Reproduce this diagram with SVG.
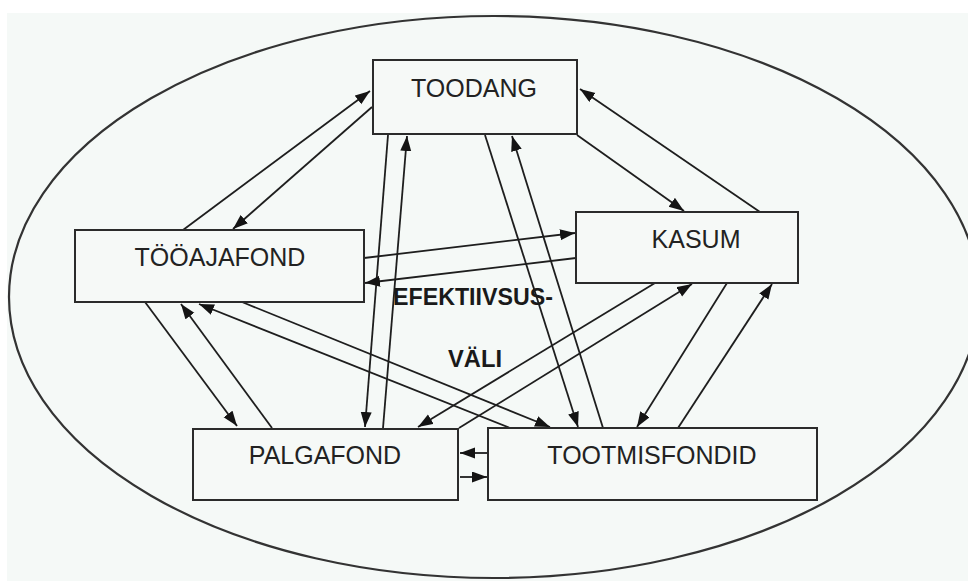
<svg xmlns="http://www.w3.org/2000/svg" width="968" height="581" viewBox="0 0 968 581">
  <style>
    .box { fill: #f6f9f7; stroke: #2b2b2b; stroke-width: 2; }
    .lbl { font-family: "Liberation Sans", Arial, sans-serif; font-size: 25px; fill: #222; text-anchor: middle; }
    .mid { font-family: "Liberation Sans", Arial, sans-serif; font-size: 23px; font-weight: bold; fill: #1a1a1a; }
    .edge { stroke: #1e1e1e; stroke-width: 1.8; fill: none; marker-end: url(#arrow); }
  </style>
  <defs>
    <marker id="arrow" markerUnits="userSpaceOnUse" markerWidth="16" markerHeight="12" refX="15" refY="5.5" orient="auto">
      <path d="M0,0 L15,5.5 L0,11 Z" fill="#141414"/>
    </marker>
  </defs>

  <!-- page background -->
  <rect x="0" y="0" width="968" height="581" fill="#ffffff"/>
  <rect x="7" y="13" width="961" height="568" fill="#f5f9f7"/>

  <!-- boundary of the efficiency field -->
  <ellipse cx="494" cy="297" rx="485" ry="281" fill="none" stroke="#333" stroke-width="2.2"/>

  <!-- connectors -->
  <g id="connectors">
    <line class="edge" x1="183" y1="230" x2="370" y2="91"/>
    <line class="edge" x1="372" y1="107" x2="233" y2="229"/>
    <line class="edge" x1="760" y1="212" x2="580" y2="89"/>
    <line class="edge" x1="577" y1="135" x2="684" y2="211"/>
    <line class="edge" x1="388" y1="135" x2="365" y2="427"/>
    <line class="edge" x1="383" y1="428" x2="407" y2="136"/>
    <line class="edge" x1="485" y1="135" x2="578" y2="427"/>
    <line class="edge" x1="603" y1="428" x2="512" y2="136"/>
    <line class="edge" x1="364" y1="258" x2="575" y2="233"/>
    <line class="edge" x1="576" y1="258" x2="365" y2="283"/>
    <line class="edge" x1="145" y1="302" x2="237" y2="426"/>
    <line class="edge" x1="272" y1="428" x2="181" y2="304"/>
    <line class="edge" x1="510" y1="428" x2="199" y2="304"/>
    <line class="edge" x1="242" y1="302" x2="550" y2="427"/>
    <line class="edge" x1="655" y1="283" x2="418" y2="427"/>
    <line class="edge" x1="459" y1="428" x2="692" y2="284"/>
    <line class="edge" x1="727" y1="283" x2="637" y2="427"/>
    <line class="edge" x1="678" y1="428" x2="772" y2="284"/>
    <line class="edge" x1="487" y1="453" x2="460" y2="453"/>
    <line class="edge" x1="460" y1="477" x2="487" y2="477"/>
  </g>

  <g id="toodang">
    <rect class="box" x="373" y="60" width="204" height="74"/>
    <text class="lbl" x="474" y="97">TOODANG</text>
  </g>
  <g id="tooajafond">
    <rect class="box" x="75" y="230" width="289" height="72"/>
    <text class="lbl" x="220" y="266">TÖÖAJAFOND</text>
  </g>
  <g id="kasum">
    <rect class="box" x="576" y="212" width="222" height="71"/>
    <text class="lbl" x="696" y="248">KASUM</text>
  </g>
  <g id="palgafond">
    <rect class="box" x="193" y="429" width="265" height="71"/>
    <text class="lbl" x="325" y="464">PALGAFOND</text>
  </g>
  <g id="tootmisfondid">
    <rect class="box" x="488" y="428" width="329" height="72"/>
    <text class="lbl" x="652" y="464">TOOTMISFONDID</text>
  </g>

  <g id="efektiivsusvali">
    <text class="mid" x="393" y="305" textLength="160" lengthAdjust="spacingAndGlyphs">EFEKTIIVSUS-</text>
    <text class="mid" x="448" y="367" textLength="54" lengthAdjust="spacingAndGlyphs">VÄLI</text>
  </g>
</svg>
